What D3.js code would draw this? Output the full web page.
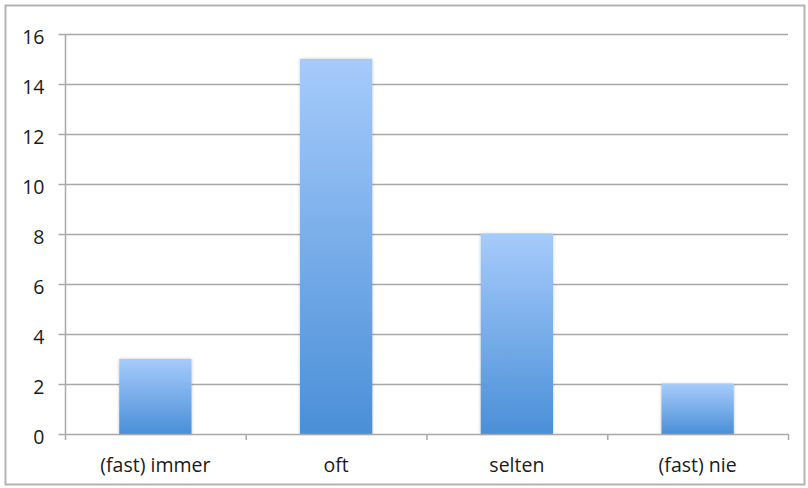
<!DOCTYPE html>
<html>
<head>
<meta charset="utf-8">
<script src="https://cdn.jsdelivr.net/npm/d3@7"></script>
<style>
  body { margin: 0; background: #fff; }
  svg text { font-family: "Open Sans", Lato, sans-serif; fill: #1a1a1a; }
</style>
</head>
<body>
<div id="chart"></div>
<script>
// data
var categories = ["(fast) immer", "oft", "selten", "(fast) nie"];
var counts = [3, 15, 8, 2];
var yTicks = [0, 2, 4, 6, 8, 10, 12, 14, 16];

var W = 808, H = 488;
var m = { top: 34, right: 20, bottom: 54, left: 65 };
var fontSize = "19.5px";

var svg = d3.select("#chart").append("svg")
    .attr("width", W).attr("height", H);

// outer frame
svg.append("rect")
    .attr("x", 5.5).attr("y", 5.5)
    .attr("width", W - 9).attr("height", H - 9)
    .attr("fill", "none").attr("stroke", "#b3b3b3").attr("stroke-width", 2);

var defs = svg.append("defs");
var grad = defs.append("linearGradient").attr("id", "barGrad")
    .attr("x1", 0).attr("y1", 0).attr("x2", 0).attr("y2", 1);
grad.append("stop").attr("offset", "0%").attr("stop-color", "#a6cbfb");
grad.append("stop").attr("offset", "100%").attr("stop-color", "#4a8fd8");

var shadow = defs.append("filter").attr("id", "shadow")
    .attr("x", "-20%").attr("y", "-20%").attr("width", "140%").attr("height", "140%");
shadow.append("feDropShadow").attr("dx", 0).attr("dy", 0)
    .attr("stdDeviation", 1.5).attr("flood-color", "#000").attr("flood-opacity", 0.25);

var x = d3.scaleBand().domain(categories)
    .range([m.left, W - m.right])
    .paddingInner(0.6).paddingOuter(0.3);

var y = d3.scaleLinear().domain([0, 16]).range([H - m.bottom, m.top]);

/* gridlines */
svg.append("g").selectAll("line").data(yTicks.slice(1)).join("line")
    .attr("x1", m.left).attr("x2", W - m.right)
    .attr("y1", d => y(d) + 0.5).attr("y2", d => y(d) + 0.5)
    .attr("stroke", "#a8a8a8").attr("stroke-width", 1.5);

/* bars */
svg.append("g").selectAll("rect").data(counts).join("rect")
    .attr("x", (d, i) => x(categories[i]))
    .attr("y", d => y(d))
    .attr("width", x.bandwidth())
    .attr("height", d => y(0) - y(d))
    .attr("fill", "url(#barGrad)")
    .attr("filter", "url(#shadow)");

/* y axis */
var yAxis = svg.append("g")
    .attr("transform", "translate(" + (m.left + 0.5) + ",0)")
    .call(d3.axisLeft(y).tickValues(yTicks).tickSize(7).tickPadding(14));
yAxis.attr("font-size", null).attr("font-family", null);
yAxis.selectAll("line, path").attr("stroke", "#a8a8a8").attr("stroke-width", 1.5);
yAxis.select(".domain").attr("d", "M0," + y(16) + "V" + y(0));
yAxis.selectAll("text").style("font-size", fontSize).attr("fill", "#1a1a1a").attr("dy", "0.48em");

/* x axis: ticks at category boundaries */
var bounds = d3.range(categories.length + 1).map(i => m.left + i * x.step());
var xAxis = svg.append("g");
xAxis.append("line")
    .attr("x1", m.left).attr("x2", W - m.right)
    .attr("y1", y(0) + 0.5).attr("y2", y(0) + 0.5)
    .attr("stroke", "#a8a8a8").attr("stroke-width", 1.5);
xAxis.selectAll("line.tick").data(bounds).join("line").attr("class", "tick")
    .attr("x1", d => d + 0.5).attr("x2", d => d + 0.5)
    .attr("y1", y(0)).attr("y2", y(0) + 6)
    .attr("stroke", "#a8a8a8").attr("stroke-width", 1.5);
xAxis.selectAll("text").data(categories).join("text")
    .attr("x", d => x(d) + x.bandwidth() / 2)
    .attr("y", y(0) + 38)
    .attr("text-anchor", "middle")
    .style("font-size", fontSize)
    .text(d => d);
</script>
</body>
</html>
